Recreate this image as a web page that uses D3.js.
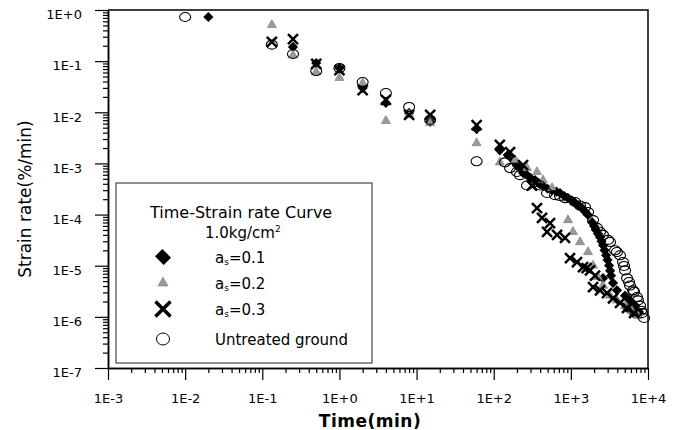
<!DOCTYPE html>
<html>
<head>
<meta charset="utf-8">
<script src="https://cdn.jsdelivr.net/npm/d3@7"></script>
<style>
  body { margin: 0; background: #fff; }
  text { font-family: "DejaVu Sans", sans-serif; fill: #000; }
</style>
</head>
<body>
<div id="chart"></div>
<script>
// time (min) and strain rate (%/min)

// a_s = 0.1 (diamonds)
var as01Time = [0.02, 0.25, 0.5, 1, 2, 4, 8, 15, 60, 120,
  152, 178, 200, 219, 240, 270, 300, 343, 390, 436,
  500, 570, 650, 723, 820, 918, 1030, 1132, 1250, 1395,
  1520, 1671, 1880, 2000, 2120, 2250, 2388, 2500, 2612, 2612,
  2740, 2860, 2990, 3125, 3230, 3320, 3520, 3960, 5035, 5350,
  5848, 6400, 6790, 7650];
var as01Rate = [0.73, 0.19, 0.092, 0.073, 0.030, 0.0152, 0.0097, 0.0065, 0.0047, 0.0018,
  1.46e-3, 1.17e-3, 9.0e-4, 8.1e-4, 6.5e-4, 5.9e-4, 5.2e-4, 4.7e-4, 4.0e-4, 3.6e-4,
  3.2e-4, 3.0e-4, 2.8e-4, 2.64e-4, 2.3e-4, 2.1e-4, 1.9e-4, 1.7e-4, 1.5e-4, 1.34e-4,
  1.15e-4, 9.8e-5, 7.1e-5, 6.0e-5, 5.0e-5, 4.2e-5, 3.6e-5, 3.0e-5, 2.5e-5, 5.7e-6,
  2.0e-5, 1.6e-5, 1.3e-5, 1.01e-5, 8.0e-6, 6.4e-6, 4.6e-6, 3.3e-6, 2.6e-6, 1.49e-6,
  2.1e-6, 1.19e-6, 1.66e-6, 1.24e-6];

// a_s = 0.2 (grey triangles)
var as02Time = [0.133, 0.25, 0.5, 1, 2, 4, 8, 15, 60, 120,
  190, 270, 364, 436, 570, 918, 1067, 1315, 1671, 1941,
  2250, 2612, 3220, 3960, 5035, 6210, 7430];
var as02Rate = [0.51, 0.13, 0.062, 0.047, 0.037, 0.0068, 0.0090, 0.0062, 0.0025, 0.00105,
  1.17e-3, 8.1e-4, 6.8e-4, 4.7e-4, 3.3e-4, 7.8e-5, 4.6e-5, 2.9e-5, 1.85e-5, 1.01e-5,
  6.0e-6, 4.1e-6, 2.6e-6, 2.1e-6, 1.63e-6, 1.3e-6, 1.04e-6];

// a_s = 0.3 (crosses)
var as03Time = [0.133, 0.25, 0.5, 1, 2, 4, 8, 15, 60, 120,
  163, 240, 313, 364, 423, 491, 537, 662, 840, 975,
  1202, 1438, 1600, 1772, 1941, 2057, 2388, 2943, 3520, 4337,
  5350, 6590];
var as03Rate = [0.237, 0.27, 0.088, 0.067, 0.027, 0.0174, 0.0089, 0.0089, 0.0056, 0.0023,
  1.67e-3, 9.3e-4, 3.7e-4, 1.34e-4, 8.6e-5, 4.6e-5, 6.8e-5, 4.0e-5, 3.5e-5, 1.41e-5,
  1.18e-5, 9.4e-6, 9.0e-6, 8.1e-6, 3.8e-6, 6.4e-6, 3.3e-6, 2.9e-6, 2.3e-6, 1.87e-6,
  1.49e-6, 1.19e-6];

// untreated ground (open circles)
var untreatedTime = [0.01, 0.133, 0.25, 0.5, 1, 2, 4, 8, 15, 60,
  140, 163, 200, 219, 270, 343, 398, 491, 623, 723,
  840, 1132, 1315, 1527, 1671, 1941, 2185, 2388, 2612, 3034,
  3220, 3740, 3960, 4337, 4745, 4887, 5035, 5350, 5675, 5848,
  6400, 6590, 7210, 7430, 7885, 8130, 8370, 8890];
var untreatedRate = [0.73, 0.21, 0.138, 0.064, 0.073, 0.039, 0.0238, 0.0127, 0.0071, 0.0011,
  1.05e-3, 8.1e-4, 6.8e-4, 5.9e-4, 3.7e-4, 4.3e-4, 3.7e-4, 2.64e-4, 2.4e-4, 2.3e-4,
  2.1e-4, 1.76e-4, 1.5e-4, 1.4e-4, 1.12e-4, 7.8e-5, 5.5e-5, 4.6e-5, 4.0e-5, 3.2e-5,
  2.9e-5, 2.0e-5, 1.85e-5, 1.6e-5, 1.18e-5, 9.9e-6, 8.1e-6, 5.7e-6, 4.8e-6, 4.1e-6,
  3.3e-6, 3.1e-6, 2.44e-6, 2.1e-6, 1.66e-6, 1.32e-6, 1.19e-6, 9.5e-7];

var xDecades = [-3, -2, -1, 0, 1, 2, 3, 4];
var yDecades = [-7, -6, -5, -4, -3, -2, -1, 0];
var legendLabels = ["0.1", "0.2", "0.3", "Untreated ground"];

var width = 680, height = 430;
var plot = {left: 108, right: 648, top: 10, bottom: 368};

var svg = d3.select("#chart").append("svg")
  .attr("width", width)
  .attr("height", height);

var x = d3.scaleLog().domain([1e-3, 1e4]).range([plot.left, plot.right]);
var y = d3.scaleLog().domain([1e-7, 1]).range([plot.bottom, plot.top]);

var pow10 = function(e) { return +("1e" + e); };
var fmt = function(d) {
  var e = Math.round(Math.log10(d));
  return "1E" + (e >= 0 ? "+" : "-") + Math.abs(e);
};
var minors = function(decs) {
  var out = [];
  decs.slice(0, -1).forEach(function(e) {
    for (var k = 2; k <= 9; k++) out.push(+(k + "e" + e));
  });
  return out;
};

// frame (top + right)
svg.append("path")
  .attr("d", "M" + plot.left + "," + plot.top + "H" + plot.right + "V" + plot.bottom)
  .attr("fill", "none").attr("stroke", "#000").attr("stroke-width", 1.5);

// x axis
var gx = svg.append("g").attr("transform", "translate(0," + plot.bottom + ")");
gx.append("g").call(d3.axisBottom(x).tickValues(minors(xDecades)).tickSize(5).tickSizeOuter(0).tickFormat(""));
gx.append("g").call(d3.axisBottom(x).tickValues(xDecades.map(pow10)).tickSize(12).tickSizeOuter(0)
  .tickPadding(14).tickFormat(fmt));

// y axis
var gy = svg.append("g").attr("transform", "translate(" + plot.left + ",0)");
gy.append("g").call(d3.axisLeft(y).tickValues(minors(yDecades)).tickSize(5).tickSizeOuter(0).tickFormat(""));
gy.append("g").call(d3.axisLeft(y).tickValues(yDecades.map(pow10)).tickSize(13).tickSizeOuter(0)
  .tickPadding(13).tickFormat(fmt));

svg.selectAll(".domain").attr("stroke", "#000").attr("stroke-width", 1.5);
svg.selectAll(".tick line").attr("stroke", "#000").attr("stroke-width", 1.2);
svg.selectAll(".tick text")
  .attr("font-family", "DejaVu Sans, sans-serif")
  .attr("font-size", 13).attr("fill", "#000");
gy.selectAll(".tick text").attr("dy", "0.68em");

// axis titles
svg.append("text")
  .attr("x", 370).attr("y", 427)
  .attr("text-anchor", "middle")
  .attr("font-size", 17).attr("font-weight", "bold")
  .attr("letter-spacing", 0.5)
  .text("Time(min)");

svg.append("text")
  .attr("transform", "translate(31,199) rotate(-90)")
  .attr("text-anchor", "middle")
  .attr("font-size", 17)
  .text("Strain rate(%/min)");

// markers
var diamondPath = function(size) { return d3.symbol(d3.symbolSquare, size)(); };
var trianglePath = function(size) { return d3.symbol(d3.symbolTriangle, size)(); };
var crossPath = function(size) { return d3.symbol(d3.symbolX, size)(); };

var pts = function(t, r) { return t.map(function(d, i) { return [d, r[i]]; }); };

svg.append("g").selectAll("path")
  .data(pts(as01Time, as01Rate))
  .enter().append("path")
  .attr("d", diamondPath(52))
  .attr("transform", function(d) { return "translate(" + x(d[0]) + "," + y(d[1]) + ") rotate(45)"; })
  .attr("fill", "#000");

svg.append("g").selectAll("path")
  .data(pts(as02Time, as02Rate))
  .enter().append("path")
  .attr("d", trianglePath(36))
  .attr("transform", function(d) { return "translate(" + x(d[0]) + "," + y(d[1]) + ")"; })
  .attr("fill", "#9a9a9a").attr("stroke", "#777").attr("stroke-width", 0.6);

svg.append("g").selectAll("path")
  .data(pts(as03Time, as03Rate))
  .enter().append("path")
  .attr("d", crossPath(67))
  .attr("transform", function(d) { return "translate(" + x(d[0]) + "," + y(d[1]) + ")"; })
  .attr("fill", "none").attr("stroke", "#000").attr("stroke-width", 2.5);

svg.append("g").selectAll("ellipse")
  .data(pts(untreatedTime, untreatedRate))
  .enter().append("ellipse")
  .attr("cx", function(d) { return x(d[0]); })
  .attr("cy", function(d) { return y(d[1]); })
  .attr("rx", 5.5).attr("ry", 4.5)
  .attr("fill", "none").attr("stroke", "#000").attr("stroke-width", 1.1);

// legend
var lg = svg.append("g");
lg.append("rect")
  .attr("x", 116).attr("y", 183).attr("width", 256).attr("height", 180)
  .attr("fill", "#fff").attr("stroke", "#222").attr("stroke-width", 1);
lg.append("text").attr("x", 150).attr("y", 218).attr("font-size", 16)
  .text("Time-Strain rate Curve");
var unit = lg.append("text").attr("x", 205).attr("y", 238).attr("font-size", 15);
unit.append("tspan").text("1.0kg/cm");
unit.append("tspan").attr("font-size", 9).attr("dy", -6).text("2");

var rowY = [257, 283, 309, 339];
var mx = 163;
lg.append("path").attr("d", diamondPath(150))
  .attr("transform", "translate(" + mx + "," + rowY[0] + ") rotate(45) scale(1,0.85)")
  .attr("fill", "#000");
lg.append("path").attr("d", trianglePath(44))
  .attr("transform", "translate(" + mx + "," + rowY[1] + ")")
  .attr("fill", "#9a9a9a").attr("stroke", "#777").attr("stroke-width", 0.6);
lg.append("path").attr("d", crossPath(150))
  .attr("transform", "translate(" + mx + "," + rowY[2] + ")")
  .attr("fill", "none").attr("stroke", "#000").attr("stroke-width", 3.5);
lg.append("ellipse").attr("cx", mx).attr("cy", rowY[3]).attr("rx", 6.5).attr("ry", 6)
  .attr("fill", "none").attr("stroke", "#000").attr("stroke-width", 1);

legendLabels.forEach(function(lab, i) {
  var t = lg.append("text").attr("x", 215).attr("y", rowY[i] + 6).attr("font-size", 15);
  if (i < 3) {
    t.append("tspan").text("a");
    t.append("tspan").attr("font-size", 9).attr("dy", 2).text("s");
    t.append("tspan").attr("dy", -2).text("=" + lab);
  } else {
    t.text(lab);
  }
});
</script>
</body>
</html>
